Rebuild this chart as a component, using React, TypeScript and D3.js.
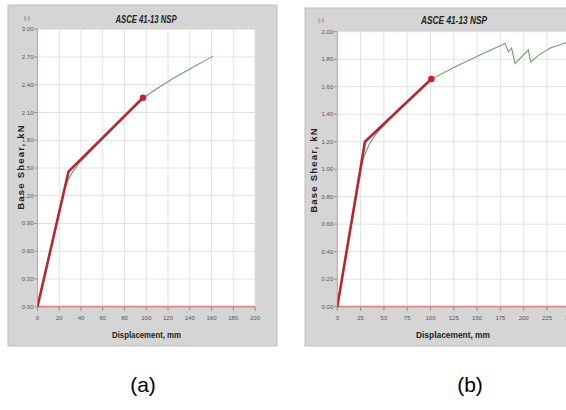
import React from "react";
import * as d3 from "d3";

// ---------- data ----------
const titleText = "ASCE 41-13 NSP";
const xLabelText = "Displacement, mm";
const yLabelText = "Base Shear, kN";
const unitText = "(-)";
const captions = ["(a)", "(b)"];

// Panel (a)
const aXTicks = [0, 20, 40, 60, 80, 100, 120, 140, 160, 180, 200];
const aYTicks = [0, 0.3, 0.6, 0.9, 1.2, 1.5, 1.8, 2.1, 2.4, 2.7, 3.0];
const aCurveX = [0, 24, 28, 32, 38, 50, 70, 97, 110, 125, 140, 161.5];
const aCurveY = [0, 1.25, 1.37, 1.45, 1.55, 1.70, 1.935, 2.255, 2.36, 2.47, 2.57, 2.71];
const aBilinX = [0, 28.5, 97];
const aBilinY = [0, 1.46, 2.26];

// Panel (b)
const bXTicks = [0, 25, 50, 75, 100, 125, 150, 175, 200, 225, 250];
const bYTicks = [0, 0.2, 0.4, 0.6, 0.8, 1.0, 1.2, 1.4, 1.6, 1.8, 2.0];
const bCurveX = [0, 27, 31, 35, 42, 55, 75, 101, 125, 153, 180, 183.5, 187, 190.7, 205, 207.5, 216, 228, 245, 250];
const bCurveY = [0, 1.06, 1.13, 1.19, 1.26, 1.355, 1.49, 1.655, 1.74, 1.83, 1.915, 1.855, 1.88, 1.77, 1.867, 1.78, 1.83, 1.88, 1.92, 1.93];
const bBilinX = [0, 29.7, 100.9];
const bBilinY = [0, 1.2, 1.656];

type PanelProps = {
  frame: { x: number; y: number; w: number; h: number };
  plot: { left: number; right: number; top: number; bottom: number };
  xDomain: [number, number];
  yDomain: [number, number];
  xTicks: number[];
  yTicks: number[];
  curveX: number[];
  curveY: number[];
  bilinX: number[];
  bilinY: number[];
  titleX: number;
  titleY: number;
  titleLen: number;
  xLabelX: number;
  xLabelY: number;
  xLabelLen: number;
  yLabelX: number;
  yLabelY: number;
  unitX: number;
  unitY: number;
  clipId: string;
};

const SANS = "'Liberation Sans Narrow', 'Liberation Sans', Arial, sans-serif";

function Panel(p: PanelProps) {
  const x = d3.scaleLinear().domain(p.xDomain).range([p.plot.left, p.plot.right]);
  const y = d3.scaleLinear().domain(p.yDomain).range([p.plot.bottom, p.plot.top]);
  const line = d3
    .line<[number, number]>()
    .x((d) => x(d[0]))
    .y((d) => y(d[1]));
  const curve = p.curveX.map((v, i) => [v, p.curveY[i]] as [number, number]);
  const bilin = p.bilinX.map((v, i) => [v, p.bilinY[i]] as [number, number]);
  const last = bilin[bilin.length - 1];
  return (
    <g>
      <defs>
        <clipPath id={p.clipId}>
          <rect x={p.plot.left} y={p.plot.top - 2} width={p.plot.right - p.plot.left} height={p.plot.bottom - p.plot.top + 4} />
        </clipPath>
      </defs>
      <rect x={p.frame.x} y={p.frame.y} width={p.frame.w} height={p.frame.h} fill="#d5d5d5" stroke="#bdbdbd" strokeWidth={1} />
      <rect x={p.plot.left} y={p.plot.top} width={p.plot.right - p.plot.left} height={p.plot.bottom - p.plot.top} fill="#ffffff" />
      {/* grid */}
      {p.xTicks.map((t) => (
        <line key={"gx" + t} x1={x(t)} x2={x(t)} y1={p.plot.top} y2={p.plot.bottom} stroke="#e2e2e2" strokeWidth={1} />
      ))}
      {p.yTicks.map((t) => (
        <line key={"gy" + t} x1={p.plot.left} x2={p.plot.right} y1={y(t)} y2={y(t)} stroke="#e2e2e2" strokeWidth={1} />
      ))}
      {/* ticks */}
      {p.xTicks.map((t) => (
        <g key={"tx" + t}>
          <line x1={x(t)} x2={x(t)} y1={p.plot.bottom} y2={p.plot.bottom + 4} stroke="#777" strokeWidth={0.8} />
          <text x={x(t)} y={p.plot.bottom + 13} fontSize={6} fill="#555" textAnchor="middle" fontFamily={SANS}>
            {t}
          </text>
        </g>
      ))}
      {p.yTicks.map((t) => (
        <g key={"ty" + t}>
          <line x1={p.plot.left - 3} x2={p.plot.left} y1={y(t)} y2={y(t)} stroke="#777" strokeWidth={0.8} />
          <text x={p.plot.left - 4} y={y(t) + 2} fontSize={6} fill="#555" textAnchor="end" fontFamily={SANS}>
            {d3.format(".2f")(t)}
          </text>
        </g>
      ))}
      {/* axis lines (red) */}
      <line x1={p.plot.left} x2={p.plot.right} y1={y(0)} y2={y(0)} stroke="#e08585" strokeWidth={1.8} />
      <line x1={x(0)} x2={x(0)} y1={p.plot.top} y2={p.plot.bottom} stroke="#e89a9a" strokeWidth={1.2} />
      {/* curves */}
      <g clipPath={`url(#${p.clipId})`}>
        <path d={line(curve) || ""} fill="none" stroke="#6f9e6f" strokeWidth={1.1} />
        <path d={line(bilin) || ""} fill="none" stroke="#b8272f" strokeWidth={2.6} strokeLinejoin="round" />
      </g>
      <circle cx={x(last[0])} cy={y(last[1])} r={3.3} fill="#d0202a" />
      {/* texts */}
      <text x={p.titleX} y={p.titleY} fontSize={10} fontWeight="bold" fontStyle="italic" fill="#222" textAnchor="middle" fontFamily={SANS} textLength={p.titleLen} lengthAdjust="spacingAndGlyphs">
        {titleText}
      </text>
      <text x={p.unitX} y={p.unitY} fontSize={6} fill="#555" textAnchor="middle" fontFamily={SANS}>
        {unitText}
      </text>
      <text x={p.xLabelX} y={p.xLabelY} fontSize={9} fontWeight="bold" fill="#222" textAnchor="middle" fontFamily={SANS} textLength={p.xLabelLen} lengthAdjust="spacingAndGlyphs">
        {xLabelText}
      </text>
      <text
        transform={`translate(${p.yLabelX},${p.yLabelY}) rotate(-90)`}
        fontSize={9.5}
        fontWeight="bold"
        fill="#222"
        textAnchor="middle"
        fontFamily="'Liberation Sans', Arial, sans-serif"
        letterSpacing={1.2}
      >
        {yLabelText}
      </text>
    </g>
  );
}

export default function App() {
  return (
    <svg width={566} height={410} viewBox="0 0 566 410" style={{ position: "absolute", left: 0, top: 0, background: "#ffffff" }}>
      <rect x={0} y={0} width={566} height={410} fill="#ffffff" />
      <Panel
        frame={{ x: 8, y: 5, w: 269, h: 341 }}
        plot={{ left: 37.5, right: 255, top: 29.3, bottom: 306.7 }}
        xDomain={[0, 200]}
        yDomain={[0, 3]}
        xTicks={aXTicks}
        yTicks={aYTicks}
        curveX={aCurveX}
        curveY={aCurveY}
        bilinX={aBilinX}
        bilinY={aBilinY}
        titleX={146}
        titleY={23}
        titleLen={61}
        xLabelX={146.5}
        xLabelY={338}
        xLabelLen={69}
        yLabelX={24}
        yLabelY={167}
        unitX={27}
        unitY={20}
        clipId="clipA"
      />
      <Panel
        frame={{ x: 305, y: 8, w: 300, h: 338 }}
        plot={{ left: 337.3, right: 570.3, top: 31.7, bottom: 306.7 }}
        xDomain={[0, 250]}
        yDomain={[0, 2]}
        xTicks={bXTicks}
        yTicks={bYTicks}
        curveX={bCurveX}
        curveY={bCurveY}
        bilinX={bBilinX}
        bilinY={bBilinY}
        titleX={454}
        titleY={24}
        titleLen={66}
        xLabelX={453}
        xLabelY={338}
        xLabelLen={74}
        yLabelX={317}
        yLabelY={170}
        unitX={321}
        unitY={22}
        clipId="clipB"
      />
      <text x={143} y={392} fontSize={21} fill="#000" textAnchor="middle" fontFamily="'Liberation Sans', Arial, sans-serif">
        {captions[0]}
      </text>
      <text x={470} y={392} fontSize={21} fill="#000" textAnchor="middle" fontFamily="'Liberation Sans', Arial, sans-serif">
        {captions[1]}
      </text>
    </svg>
  );
}
